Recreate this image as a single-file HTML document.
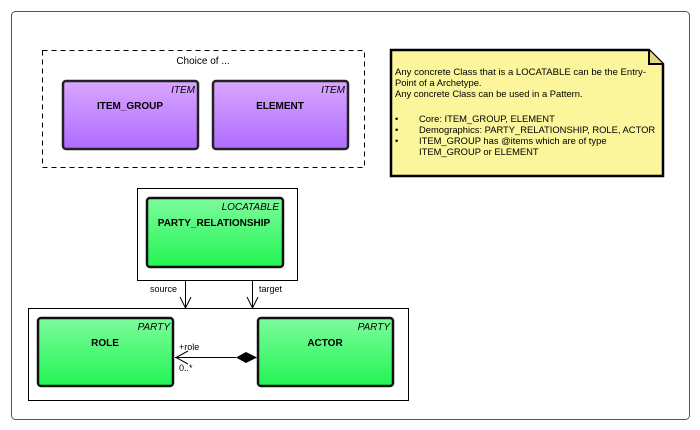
<!DOCTYPE html>
<html><head><style>body{margin:0;background:#fff}svg{display:block}</style></head><body>
<svg width="700" height="430" xmlns="http://www.w3.org/2000/svg" font-family="Liberation Sans, sans-serif">
<defs>
<linearGradient id="p" x1="0" y1="0" x2="0" y2="1"><stop offset="0" stop-color="#d9a6ff"/><stop offset="1" stop-color="#b06cff"/></linearGradient>
<linearGradient id="g" x1="0" y1="0" x2="0" y2="1"><stop offset="0" stop-color="#7dfb9d"/><stop offset="1" stop-color="#22f552"/></linearGradient>
</defs>
<rect x="0" y="0" width="700" height="430" fill="#fff"/>
<rect x="11.5" y="11.5" width="678" height="408" rx="4" fill="#fff" stroke="#555" stroke-width="1"/>
<rect x="42.5" y="50.5" width="322" height="117" fill="none" stroke="#000" stroke-dasharray="5,4"/>
<text x="203" y="64" font-size="10" text-anchor="middle">Choice of ...</text>
<rect x="63" y="81" width="135" height="68" rx="3" fill="url(#p)" stroke="#222" stroke-width="2.5"/>
<text x="195" y="93" font-size="10" font-style="italic" text-anchor="end">ITEM</text>
<text x="130" y="109" font-size="10" font-weight="bold" text-anchor="middle">ITEM_GROUP</text>
<rect x="213" y="81" width="135" height="68" rx="3" fill="url(#p)" stroke="#222" stroke-width="2.5"/>
<text x="345" y="93" font-size="10" font-style="italic" text-anchor="end">ITEM</text>
<text x="280" y="109" font-size="10" font-weight="bold" text-anchor="middle">ELEMENT</text>
<path d="M391 50 H649 L663 64 V176 H391 Z" fill="#fbf59b" stroke="#000" stroke-width="2.5"/>
<path d="M649 50 V64 H663" fill="#e0da80" stroke="#000" stroke-width="2"/>
<g font-size="9.4">
<text x="395" y="75" textLength="251" lengthAdjust="spacingAndGlyphs">Any concrete Class that is a LOCATABLE can be the Entry-</text>
<text x="395" y="86">Point of a Archetype.</text>
<text x="395" y="97">Any concrete Class can be used in a Pattern.</text>
<text x="395" y="122">•</text><text x="419" y="122">Core: ITEM_GROUP, ELEMENT</text>
<text x="395" y="133">•</text><text x="419" y="133">Demographics: PARTY_RELATIONSHIP, ROLE, ACTOR</text>
<text x="395" y="144">•</text><text x="419" y="144">ITEM_GROUP has @items which are of type</text>
<text x="419" y="155">ITEM_GROUP or ELEMENT</text>
</g>
<rect x="137.5" y="188.5" width="160" height="92" fill="#fff" stroke="#000"/>
<rect x="147" y="198" width="136" height="69" rx="3" fill="url(#g)" stroke="#111" stroke-width="2.5"/>
<text x="279" y="210" font-size="10" font-style="italic" text-anchor="end">LOCATABLE</text>
<text x="214" y="226" font-size="10" font-weight="bold" text-anchor="middle">PARTY_RELATIONSHIP</text>
<rect x="28.5" y="308.5" width="380" height="92" fill="#fff" stroke="#000"/>
<line x1="185.5" y1="280" x2="185.5" y2="308" stroke="#000"/>
<path d="M180 297 L185.5 308 L191 297" fill="none" stroke="#000"/>
<line x1="252.5" y1="280" x2="252.5" y2="308" stroke="#000"/>
<path d="M247 297 L252.5 308 L258 297" fill="none" stroke="#000"/>
<text x="150" y="292" font-size="9">source</text>
<text x="259" y="292" font-size="9">target</text>
<rect x="38" y="318" width="135" height="68" rx="3" fill="url(#g)" stroke="#111" stroke-width="2.5"/>
<text x="170" y="330" font-size="10" font-style="italic" text-anchor="end">PARTY</text>
<text x="105" y="346" font-size="10" font-weight="bold" text-anchor="middle">ROLE</text>
<rect x="258" y="318" width="135" height="68" rx="3" fill="url(#g)" stroke="#111" stroke-width="2.5"/>
<text x="390" y="330" font-size="10" font-style="italic" text-anchor="end">PARTY</text>
<text x="325" y="346" font-size="10" font-weight="bold" text-anchor="middle">ACTOR</text>
<line x1="175" y1="357.5" x2="236" y2="357.5" stroke="#000"/>
<path d="M188 351 L176 357.5 L188 364" fill="none" stroke="#000"/>
<path d="M236 357.5 L246 352 L257 357.5 L246 363 Z" fill="#000"/>
<text x="179" y="350" font-size="9">+role</text>
<text x="179" y="371" font-size="9">0..*</text>
</svg>
</body></html>
